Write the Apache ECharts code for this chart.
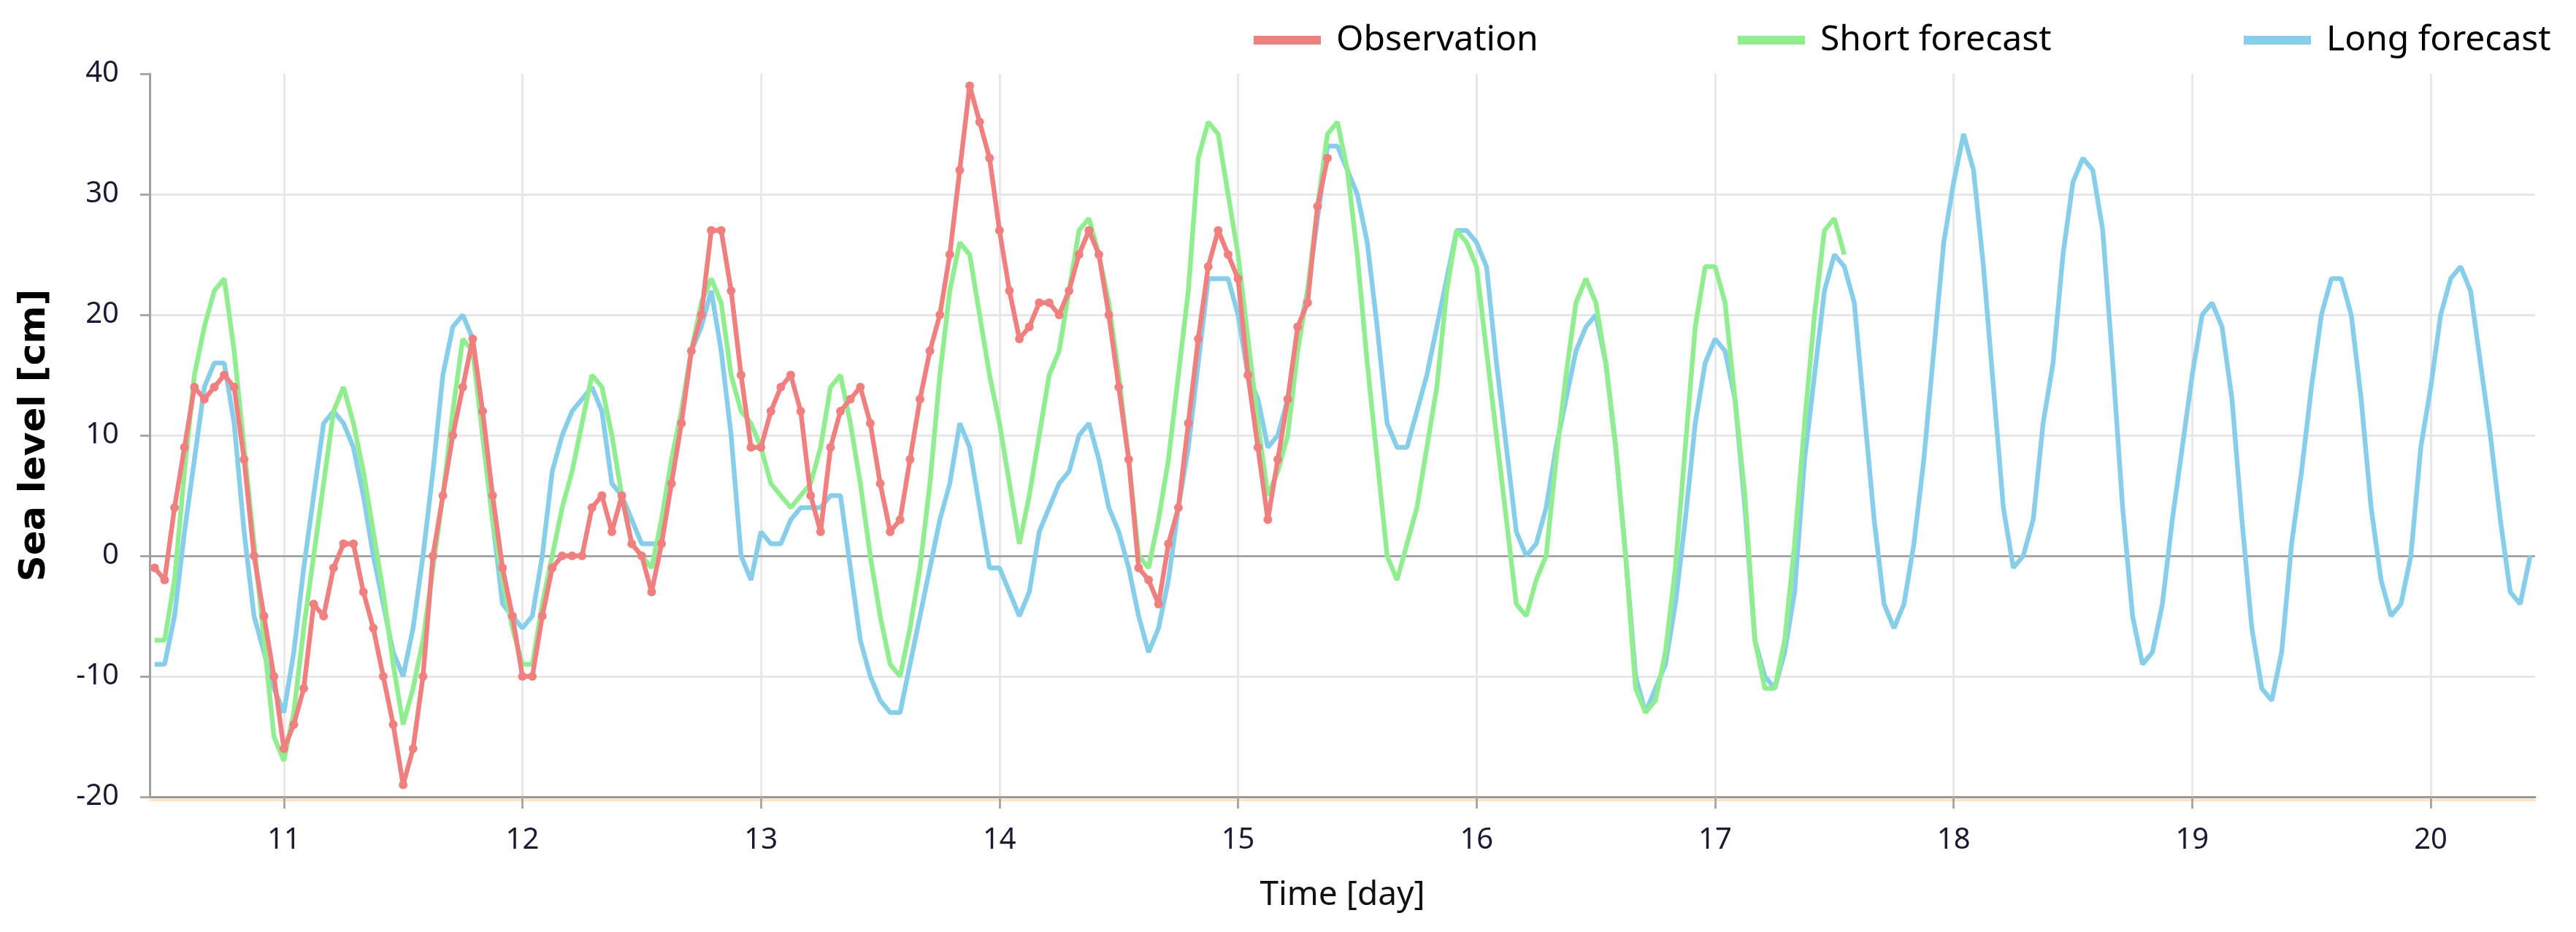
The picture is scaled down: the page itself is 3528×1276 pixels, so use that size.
<!DOCTYPE html>
<html>
<head>
<meta charset="utf-8">
<script src="https://cdn.jsdelivr.net/npm/echarts@6.0.0/dist/echarts.min.js"></script>
<style>
  html, body { margin: 0; padding: 0; background: #ffffff; }
  #chart { width: 3528px; height: 1276px; }
</style>
</head>
<body>
<div id="chart"></div>
<script>
// Hourly series; first sample at day 10, 11:00
const firstTime = 10 + 11 / 24;
const stepDays = 1 / 24;

const observation = [
  -1, -2, 4, 9, 14, 13, 14, 15, 14, 8, 0, -5, -10,
  -16, -14, -11, -4, -5, -1, 1, 1, -3, -6, -10, -14, -19, -16, -10, 0, 5, 10, 14, 18, 12, 5, -1, -5,
  -10, -10, -5, -1, 0, 0, 0, 4, 5, 2, 5, 1, 0, -3, 1, 6, 11, 17, 20, 27, 27, 22, 15, 9,
  9, 12, 14, 15, 12, 5, 2, 9, 12, 13, 14, 11, 6, 2, 3, 8, 13, 17, 20, 25, 32, 39, 36, 33,
  27, 22, 18, 19, 21, 21, 20, 22, 25, 27, 25, 20, 14, 8, -1, -2, -4, 1, 4, 11, 18, 24, 27, 25,
  23, 15, 9, 3, 8, 13, 19, 21, 29, 33
];

const shortForecast = [
  -7, -7, -2, 7, 15, 19, 22, 23, 17, 9, 1, -7, -15,
  -17, -13, -6, 0, 6, 12, 14, 11, 7, 2, -3, -9, -14, -11, -7, -1, 5, 12, 18, 17, 10, 3, -2, -6,
  -9, -9, -4, 0, 4, 7, 11, 15, 14, 10, 5, 1, 0, -1, 3, 8, 12, 17, 21, 23, 21, 15, 12, 11,
  9, 6, 5, 4, 5, 6, 9, 14, 15, 11, 6, 0, -5, -9, -10, -6, -1, 6, 15, 22, 26, 25, 20, 15,
  11, 6, 1, 5, 10, 15, 17, 22, 27, 28, 25, 21, 15, 8, 0, -1, 3, 8, 15, 22, 33, 36, 35, 30,
  25, 18, 11, 5, 7, 10, 17, 22, 29, 35, 36, 32, 25, 16, 8, 0, -2, 1, 4, 9, 14, 22, 27, 26,
  24, 17, 10, 3, -4, -5, -2, 0, 8, 15, 21, 23, 21, 16, 9, 0, -11, -13, -12, -8, -1, 9, 19, 24,
  24, 21, 13, 5, -7, -11, -11, -7, 1, 11, 20, 27, 28, 25
];

const longForecast = [
  -9, -9, -5, 2, 8, 14, 16, 16, 11, 2, -5, -8, -11,
  -13, -8, -1, 5, 11, 12, 11, 9, 5, 0, -4, -8, -10, -6, 0, 7, 15, 19, 20, 18, 10, 3, -4, -5,
  -6, -5, 0, 7, 10, 12, 13, 14, 12, 6, 5, 3, 1, 1, 1, 7, 12, 17, 19, 22, 17, 10, 0, -2,
  2, 1, 1, 3, 4, 4, 4, 5, 5, -1, -7, -10, -12, -13, -13, -9, -5, -1, 3, 6, 11, 9, 4, -1,
  -1, -3, -5, -3, 2, 4, 6, 7, 10, 11, 8, 4, 2, -1, -5, -8, -6, -2, 4, 9, 16, 23, 23, 23,
  20, 15, 13, 9, 10, 13, 18, 22, 28, 34, 34, 32, 30, 26, 19, 11, 9, 9, 12, 15, 19, 23, 27, 27,
  26, 24, 16, 9, 2, 0, 1, 4, 9, 13, 17, 19, 20, 16, 9, 0, -10, -13, -11, -9, -4, 3, 11, 16,
  18, 17, 13, 4, -7, -10, -11, -8, -3, 8, 15, 22, 25, 24, 21, 12, 3, -4, -6, -4, 1, 8, 17, 26,
  31, 35, 32, 24, 14, 4, -1, 0, 3, 11, 16, 25, 31, 33, 32, 27, 16, 4, -5, -9, -8, -4, 3, 9,
  15, 20, 21, 19, 13, 3, -6, -11, -12, -8, 1, 7, 14, 20, 23, 23, 20, 13, 4, -2, -5, -4, 0, 9,
  14, 20, 23, 24, 22, 16, 10, 3, -3, -4, 0
];

const seriesNames = ['Observation', 'Short forecast', 'Long forecast'];
const seriesColors = ['#f08080', '#90ee90', '#87ceeb'];
const xRange = [10.4375, 20.4375];
const yTicks = { min: -20, max: 40, step: 10 };

function toPairs(values) {
  return values.map((v, i) => [firstTime + i * stepDays, v]);
}

const chart = echarts.init(document.getElementById('chart'), null, { renderer: 'canvas' });

const legendLefts = [1712, 2375, 3068];
const legends = seriesNames.map((name, i) => ({
  data: [name],
  left: legendLefts[i],
  top: 26,
  icon: 'rect',
  itemWidth: 92,
  itemHeight: 12,
  selectedMode: false,
  textStyle: {
    fontFamily: 'Noto Sans',
    fontSize: 48,
    color: '#000',
    padding: [0, 0, 0, 16]
  }
}));

const tickFont = { fontFamily: 'Noto Sans', fontSize: 40, color: '#1a1a33' };

const option = {
  animation: false,
  backgroundColor: '#ffffff',
  legend: legends,
  grid: { left: 205, right: 56, top: 101, bottom: 185 },
  xAxis: {
    type: 'value',
    min: xRange[0],
    max: xRange[1],
    splitNumber: 10,
    name: 'Time [day]',
    nameLocation: 'middle',
    nameGap: 112,
    nameTextStyle: { fontFamily: 'Noto Sans', fontSize: 46, color: '#111' },
    axisLine: {
      onZero: false,
      lineStyle: { color: '#a0968c', width: 3, shadowColor: '#fde3c8', shadowOffsetY: 4, shadowBlur: 0 }
    },
    axisTick: { show: true, length: 16, lineStyle: { color: '#a8a8a8', width: 3 } },
    axisLabel: Object.assign({
      margin: 40,
      showMinLabel: false,
      showMaxLabel: false,
      formatter: v => (Math.abs(v - Math.round(v)) < 1e-6 ? String(Math.round(v)) : '')
    }, tickFont),
    splitLine: { show: true, showMinLine: false, showMaxLine: false, lineStyle: { color: '#e8e8e8', width: 3 } }
  },
  yAxis: {
    type: 'value',
    min: yTicks.min,
    max: yTicks.max,
    interval: yTicks.step,
    name: 'Sea level [cm]',
    nameLocation: 'middle',
    nameGap: 132,
    nameTextStyle: { fontFamily: 'DejaVu Sans', fontWeight: 'bold', fontSize: 50, color: '#000' },
    axisLine: { show: true, lineStyle: { color: '#a0a0a0', width: 3 } },
    axisTick: { show: true, length: 13, lineStyle: { color: '#a8a8a8', width: 3 } },
    axisLabel: Object.assign({ margin: 42 }, tickFont),
    splitLine: { show: true, showMinLine: false, showMaxLine: false, lineStyle: { color: '#e2e2e2', width: 2.5 } }
  },
  series: [
    {
      name: seriesNames[2],
      type: 'line',
      data: toPairs(longForecast),
      showSymbol: false,
      symbol: 'none',
      color: seriesColors[2],
      lineStyle: { color: seriesColors[2], width: 6.5 },
      z: 2,
      markLine: {
        z: 1,
        silent: true,
        symbol: ['none', 'none'],
        label: { show: false },
        lineStyle: { color: '#9a9a9a', width: 2.5, type: 'solid' },
        data: [{ yAxis: 0 }]
      }
    },
    {
      name: seriesNames[1],
      type: 'line',
      data: toPairs(shortForecast),
      showSymbol: false,
      symbol: 'none',
      color: seriesColors[1],
      lineStyle: { color: seriesColors[1], width: 6.5 },
      z: 3
    },
    {
      name: seriesNames[0],
      type: 'line',
      data: toPairs(observation),
      symbol: 'circle',
      symbolSize: 12,
      showAllSymbol: true,
      color: seriesColors[0],
      itemStyle: { color: seriesColors[0] },
      lineStyle: { color: seriesColors[0], width: 6.5 },
      z: 4
    }
  ]
};

chart.setOption(option);
</script>
</body>
</html>
